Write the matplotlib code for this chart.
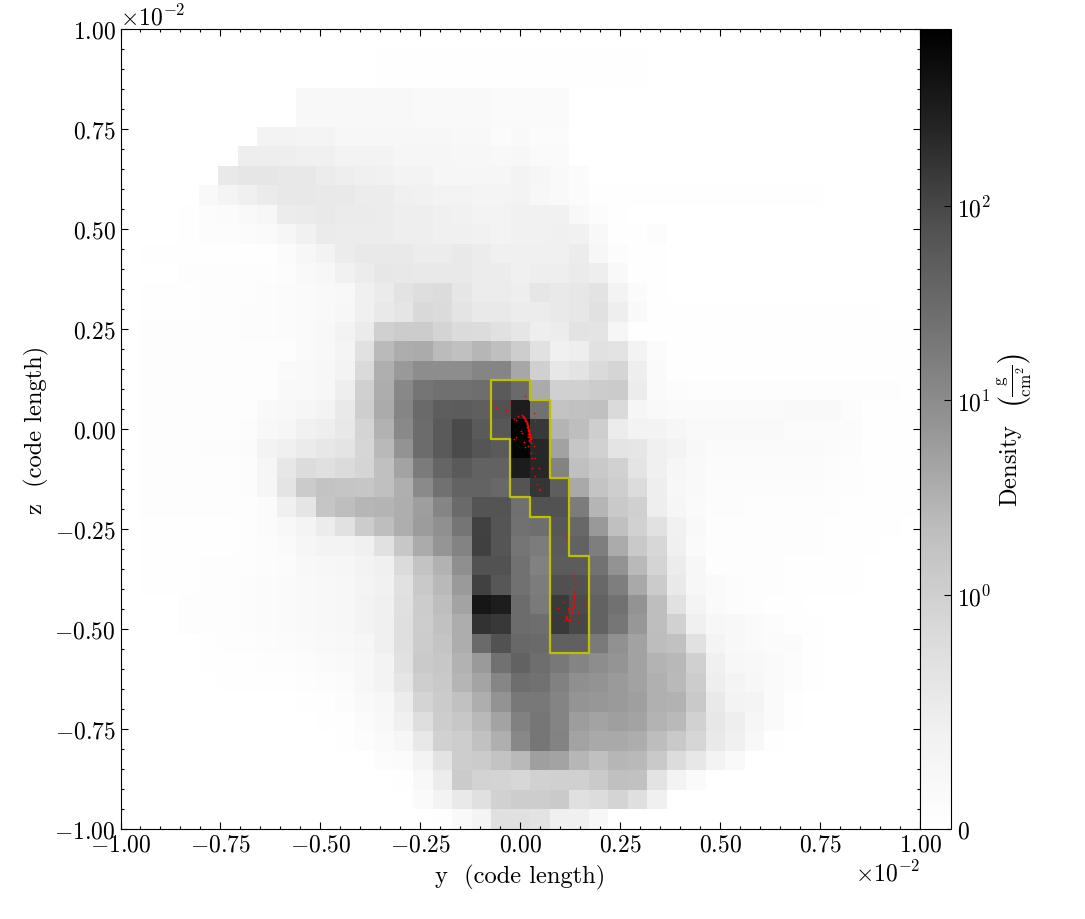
"""
Projected density slice (y-z) with clump outline and sink particles.
Density table read off the picture, top row first, 41 x 41 cells.
"""
import numpy as np
import matplotlib
matplotlib.use("Agg")
import matplotlib.pyplot as plt
from matplotlib.colors import SymLogNorm
from matplotlib.ticker import MultipleLocator, ScalarFormatter

plt.rcParams["font.family"] = ["cmr10"]
plt.rcParams["mathtext.fontset"] = "cm"
plt.rcParams["mathtext.default"] = "rm"
plt.rcParams["axes.formatter.use_mathtext"] = True
plt.rcParams["axes.unicode_minus"] = False
plt.rcParams["font.size"] = 17

DENSITY_TOP = [
    [0]*41,
    [0]*13 + [.05]*4 + [.03]*10 + [0]*14,
    [0]*13 + [.05]*4 + [.03]*10 + [0]*14,
    [0]*9 + [.2]*6 + [.17]*4 + [.14]*4 + [.01]*12 + [0]*6,
    [0]*9 + [.2]*6 + [.17]*4 + [.14]*4 + [.01]*12 + [0]*6,
    [0]*7 + [.36,.36,.31,.31,.25,.25,.25,.25,.22,.22,.2,.2,.11,.17,.11,.11] + [.02]*12 + [0]*6,
    [0]*6 + [.46,.46,.46,.44,.44,.36,.34,.34,.28,.28,.28,.25,.25,.2,.25,.14,.14] + [.02]*12 + [0]*6,
    [0]*5 + [.565,.62,.62,.585,.585,.495,.475,.42,.39,.36,.34,.28,.28,.28,.28,.36,.28,.17,.11] + [.02]*12 + [0]*5,
    [0]*4 + [.17,.31,.42,.53,.585,.585,.565,.565,.495,.495,.42,.39,.36,.34,.31,.31,.34,.25,.17,.11] + [.03]*12 + [0]*5,
]

DENSITY_UPPER = [
    [0,0,0,.03,.085,.11,.17,.25,.495,.53,.565,.53,.53,.495,.475,.46,.42,.39,.34,.34,.39,.39,.39,.2,.085,.03] + [.02]*12 + [0]*3,
    [0,0,0,.03,.085,.085,.11,.14,.28,.39,.53,.495,.495,.495,.475,.46,.44,.44,.39,.34,.39,.39,.42,.39,.2,.05,.03,.085] + [.02]*9 + [0]*4,
    [0,.03,.03,.05,.05,.05,.05,.05,.11,.225,.34,.495,.55,.55,.55,.51,.495,.55,.495,.42,.42,.42,.44,.51,.25,.085,.05,.05] + [.02]*9 + [0]*4,
    [0,.01,.01,.07,.07,.07,.07,.07,.085,.17,.225,.39,.51,.6,.585,.565,.565,.565,.495,.495,.44,.475,.475,.53,.475,.17,.05,.05] + [.02]*9 + [0]*4,
    [0,.03,.05,.05,.07,.07,.08,.09,.11,.14,.17,.2,.42,.53,.68,.77,.8,.62,.495,.495,.46,.62,.565,.6,.68,.34,.11,.05] + [.02]*9 + [0]*4,
    [0,.05,.05,.05,.07,.07,.09,.09,.11,.14,.17,.25,.42,.55,.64,.855,.825,.66,.55,.55,.495,.495,.55,.6,.71,.475,.17,.05] + [.03]*9 + [.04,.04,.02,0],
    [0,.07,.07,.07,.07,.07,.09,.09,.11,.14,.2,.34,.53,.99,1.15,1.15,.93,.825,.8,.71,.62,.475,.51,.68,.66,.28,.03] + [.03]*10 + [.05,.05,.03,.03],
    [0] + [.07]*8 + [.14,.2,.31,.71,2.38,3.66,3.78,2.32,1.93,2.7,2.0,1.11,.71,.44,.46,.7,.68,.34,.11] + [.03]*9 + [.05,.05,.05,.03],
    [0] + [.07]*7 + [.14,.17,.25,.36,.84,3.33,6.6,9.8,9.8,9.8,12.5,12.5,4.4,.99,.6,.68,.84,.915,.46,.14,.05] + [.04]*9 + [.05,.05,.04],
]

DENSITY_CORE = [
    [0] + [.07]*7 + [.17,.17,.25,.46,.99,3.66,11.3,22,25.5,25.5,28,57,31.5,3.78,.99,.99,1.15,1.21,.51,.14,.09] + [.07]*6 + [.06]*5 + [.03],
    [0] + [.07]*6 + [.17,.2,.28,.36,.565,1.06,3.78,12.5,31.5,49,53,48,76,316,25,1.71,1.86,1.93,.84,.28,.17,.14,.14,.14,.14,.15,.15,.17,.17,.17,.09,.03,.03,.03],
    [0,.07,.07,.07,.07,.07,.1,.2,.28,.39,.46,.585,.945,3.14,10.9,29.5,57,94,57,61,813,151,2.87,2.11,1.06,.51,.34,.34,.28,.17,.17,.17,.17,.17,.11,.11,.11,.11,.05,.03,.03],
    [0,.07,.07,.07,.09,.09,.13,.34,.44,.53,.6,.66,.9,2.45,7.7,29.5,57,89,66,57,700,232,5.1,1.49,.975,.66,.62,.44,.34,.2,.14,.14,.14,.14,.14,.14,.12,.09,.05,.03,.03],
    [0,.07,.07,.07,.07,.07,.1,.28,.6,.79,.73,.825,.915,1.93,4.8,17.8,38,57,42.5,42.5,325,232,13.8,1.93,1.32,.975,.66,.44,.28,.17,.12,.12,.11,.11,.11,.11,.09,.08,.05,.03,.03],
    [0,.07,.07,.07,.07,.07,.09,.28,.66,1.21,1.71,1.57,1.49,1.93,3.33,10.5,24.5,41,41,34,69,163,49,4.0,1.63,1.06,.8,.475,.25,.17,.1,.1,.09,.09,.09,.09,.08,.07,.05,.03,.03],
    [0,.07,.07,.07,.07,.07,.08,.11,.42,.64,1.57,2.11,2.7,2.87,3.43,5.6,12.5,31.5,69,69,25.5,76,76,17,2.78,1.32,.99,.475,.28,.14,.09,.09,.08,.08,.08,.08,.06,.05,.03,.03,.03],
    [0,.05,.05,.05,.05,.05,.07,.11,.2,.31,.495,.71,1.15,2.11,3.53,6,8.8,22,117,66,24.5,28,61,34,6.6,1.93,.975,.71,.39,.17,.08,.08,.07,.07,.07,.07,.05,.03,.03,.03,.02],
    [0,.05,.05,.05,.05,.05,.07,.09,.16,.28,.34,.36,.42,.71,1.44,3.78,7.2,13.8,122,66,22,17,57,42.5,16,3.78,1.32,.885,.42,.14,.07,.07,.07,.07,.07,.07,.05,.03,.03,.02,.02],
]

DENSITY_LOWER = [
    [0,.03,.03,.05,.06,.06,.08,.09,.13,.2,.225,.28,.34,.44,.825,1.71,3.14,9.2,76,76,24.5,14.8,53,53,23.5,7.95,2.45,.93,.495,.225,.08,.08,.07,.07,.05,.05,.03,.03,.02,.02,.02],
    [0,.03,.03,.05,.07,.07,.09,.11,.14,.17,.2,.25,.31,.39,.71,1.32,2.45,6.2,117,61,24.5,17,82,78,34,16,4.0,1.21,.565,.25,.14,.09,.07,.07,.05,.05,.03,.03,.02,.02,0],
    [0,0,0,.07,.08,.08,.1,.11,.14,.17,.2,.25,.36,.42,.73,1.15,2.03,4.8,395,316,29.5,18.5,140,89,42.5,24.5,7.95,2.03,.71,.31,.14,.09,.07,.05,.03,0,0,0,0,0,0],
    [0,0,0,.06,.07,.07,.09,.11,.14,.17,.2,.25,.36,.42,.75,1.11,1.86,3.66,178,151,29.5,28,145,99,42.5,21,7,2.17,.975,.42,.25,.2,.14,.085,.05,.03,0,0,0,0,0],
    [0,0,0,0,.05,.06,.07,.09,.11,.14,.17,.2,.28,.42,.75,1.15,1.63,3.66,31.5,76,34,31.5,46,46,18.5,8.5,5.1,2.2,1.86,.71,.31,.2,.14,.11,.11,.03,0,0,0,0,0],
    [0,0,0,0,.03,.03,.05,.06,.08,.1,.14,.17,.225,.36,.71,1.26,1.44,3.14,6.2,24.5,42.5,28,19.7,13,9.8,7.45,5.1,2.95,2.6,.99,.44,.25,.2,.14,.085,.03,0,0,0,0,0],
    [0,0,0,0,0,.03,.03,.05,.05,.08,.1,.11,.225,.34,.64,1.06,1.32,2.78,4.65,12,28,24.5,14.8,9.2,7.7,6.2,5.1,3.24,2.45,1.15,.46,.31,.225,.14,.085,.03,0,0,0,0,0],
    [0,0,0,0,0,0,0,0,0,.03,.05,.09,.17,.25,.495,.945,1.21,1.86,3.53,7.95,19.7,19.7,13,7.45,7,6.2,5.4,3.24,3.14,1.32,.565,.36,.31,.14,.03,0,0,0,0,0,0],
    [0]*10 + [.05,.05,.11,.2,.42,.77,1.11,1.44,2.45,4.8,14.8,21,13,5.8,4.8,5.4,4.8,2.95,2.53,.975,.6,.46,.28,.14,.03,0,0,0,0,0,0],
    [0]*10 + [.02,.05,.085,.14,.28,.585,.975,1.11,1.86,3.33,11.3,21,13.8,4.8,4,4,3.66,2.23,1.32,.9,.565,.42,.2,.05,0,0,0,0,0,0,0],
    [0]*13 + [.085,.11,.36,.68,1.11,1.21,1.71,2.45,5.4,4.8,2.7,1.93,2.7,2.45,1.32,.79,.6,.34,.17,.02] + [0]*8,
    [0]*14 + [.05,.2,.495,1.21,.96,.945,.885,.975,.99,.99,1.26,1.93,1.86,.68,.34,.14] + [0]*11,
    [0]*15 + [.14,.34,.565,.73,.975,1.11,1.11,1.26,.73,.79,.945,.75,.42] + [0]*13,
    [0]*16 + [.03,.17,.31,.73,.73,.68,.42,.42,.25] + [0]*16,
]

# clump outline, in units of 1e-2 code length
CLUMP_Y = [-.0732, .0244, .0244, .0732, .0732, .122, .122, .171, .171, .0732, .0732, .0244, .0244, -.0244, -.0244, -.0732, -.0732]
CLUMP_Z = [.122, .122, .0732, .0732, -.122, -.122, -.317, -.317, -.561, -.561, -.2195, -.2195, -.171, -.171, -.0244, -.0244, .122]

# sink particles, same units
SINK_Y = [.011, -.065, -.061, -.025, -.039, -.035, -.031, -.033, .034, .005, .008, -.005, -.015, -.011,
          .011, .036, .017, .019, .019, .002, .005, .022, .022, .024, .025, -.010, -.015, .010, .028, .020,
          .013, .034, .028, .030, .037, .048, .030, .036, .043, .048, .009, .012, .014, .016, .017, .018,
          .019, .020, .021, .022, .023, .024, .026, .023, .020, .021, .049, .071, .1145,
          .008, .010, .011, .013, .015, .016, .018, .019, .020, .021, .022, .018, .020, .022, .024, .025, .026, .024, .023, .019,
          .134, .136, .135, .135, .135, .133, .107, .095, .119, .162, .145, .130, .128, .120, .115, .114,
          .120, .125, .145, .138, .134, .131, .127, .135, .134, .133, .132, .130, .122, .118, .116, .113]
SINK_Z = [.082, .065, .053, .064, .051, .048, .044, .034, .040, .035, .031, .032, .025, .022,
          .021, .019, .017, .008, .002, -.004, -.010, -.004, -.012, -.021, -.029, -.020, -.026, -.032, -.035, -.043,
          -.046, -.042, -.061, -.073, -.073, -.097, -.098, -.117, -.138, -.152, .028, .024, .020, .014, .011, .006,
          .000, -.003, -.007, -.015, -.018, -.024, -.026, -.030, -.012, -.020, -.150, -.175, -.269,
          .033, .030, .027, .023, .019, .016, .012, .009, .005, .001, -.002, .004, -.006, -.009, -.013, -.017, -.022, -.025, -.028, -.019,
          -.364, -.387, -.405, -.418, -.429, -.4375, -.433, -.448, -.447, -.4375, -.458, -.457, -.465, -.454, -.468, -.473,
          -.477, -.477, -.481, -.486, -.443, -.450, -.468, -.411, -.423, -.433, -.440, -.447, -.461, -.471, -.475, -.477]

CBAR_TICKS = [0, 1, 10, 100]
CBAR_LABELS = ["$0$", "$10^{0}$", "$10^{1}$", "$10^{2}$"]

density = np.array(DENSITY_TOP + DENSITY_UPPER + DENSITY_CORE + DENSITY_LOWER, dtype=float)[::-1]

W, H = 1085, 920
fig = plt.figure(figsize=(W / 100, H / 100), dpi=100)
ax = fig.add_axes([120.5 / W, 1 - 830 / H, 799.5 / W, 800 / H])
cax = fig.add_axes([920 / W, 1 - 830 / H, 30.5 / W, 800 / H])

edges = np.linspace(-0.01, 0.01, 42)
norm = SymLogNorm(linthresh=1, linscale=1.083, vmin=0, vmax=813, base=10)
mesh = ax.pcolormesh(edges, edges, density, cmap="Greys", norm=norm, rasterized=True)

ax.plot(np.array(CLUMP_Y) * 1e-2, np.array(CLUMP_Z) * 1e-2, color="#bfbf00", lw=1.6, solid_joinstyle="round")
ax.scatter(np.array(SINK_Y) * 1e-2, np.array(SINK_Z) * 1e-2, s=1.6, color="red", linewidths=0, zorder=4)

ax.set_xlim(-0.01, 0.01)
ax.set_ylim(-0.01, 0.01)
for axis in (ax.xaxis, ax.yaxis):
    axis.set_major_locator(MultipleLocator(0.0025))
    axis.set_minor_locator(MultipleLocator(0.0005))
    fmt = ScalarFormatter(useMathText=True)
    fmt.set_powerlimits((0, 0))
    axis.set_major_formatter(fmt)
ax.tick_params(which="both", direction="in", top=True, right=True, width=0.8)
ax.tick_params(which="major", length=5)
ax.tick_params(which="minor", length=2.5)
ax.set_xlabel("y  (code length)", fontsize=17.6, labelpad=6)
ax.set_ylabel("z  (code length)", fontsize=17.6, labelpad=4)

cb = fig.colorbar(mesh, cax=cax)
cb.set_ticks(CBAR_TICKS, labels=CBAR_LABELS)
cb.minorticks_off()
cax.tick_params(direction="in", length=5, width=0.8, pad=5)
cb.set_label(r"Density  $\left(\frac{\mathrm{g}}{\mathrm{cm}^{2}}\right)$", fontsize=17.6, labelpad=3)

fig.savefig("out.png", dpi=100)
plt.close()
